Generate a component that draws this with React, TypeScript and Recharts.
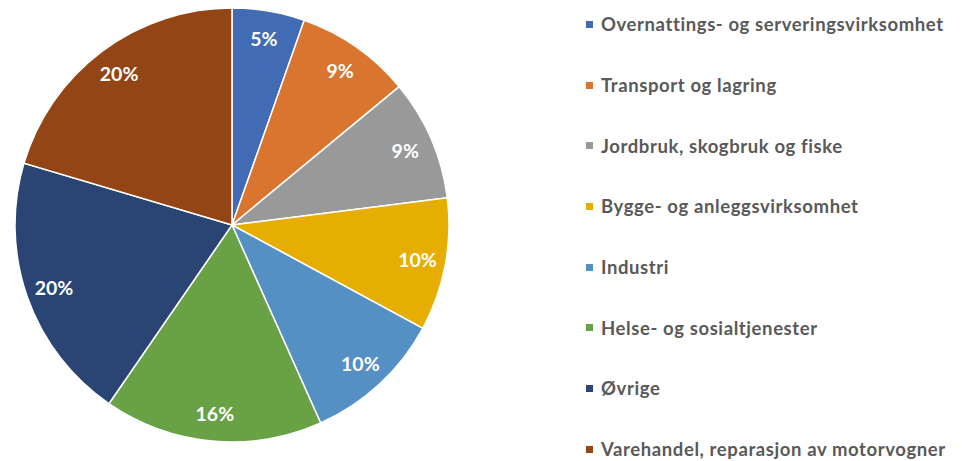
import { Cell, Legend, Pie, PieChart } from 'recharts';

const SECTORS = [
  'Overnattings- og serveringsvirksomhet',
  'Transport og lagring',
  'Jordbruk, skogbruk og fiske',
  'Bygge- og anleggsvirksomhet',
  'Industri',
  'Helse- og sosialtjenester',
  'Øvrige',
  'Varehandel, reparasjon av motorvogner',
];

const SHARES = [5.4, 8.6, 9.0, 9.9, 10.4, 16.3, 20.0, 20.4];

const COLORS = ['#416bb5', '#d9752f', '#999999', '#e6ae02', '#5590c5', '#68a244', '#2a4573', '#934515'];

const data = SECTORS.map((name, i) => ({ name, value: SHARES[i] }));

const RAD = Math.PI / 180;

function renderLabel({ cx, cy, midAngle, outerRadius, percent }: any) {
  const r = outerRadius * 0.87;
  const x = cx + r * Math.cos(-midAngle * RAD);
  const y = cy + r * Math.sin(-midAngle * RAD);
  return (
    <text x={x} y={y} fill="#ffffff" textAnchor="middle" dominantBaseline="central" fontSize={19.5} fontWeight={700} fontFamily="Lato, sans-serif">
      {`${Math.round(percent * 100)}%`}
    </text>
  );
}

function SectorLegend() {
  return (
    <ul style={{ listStyle: 'none', margin: 0, padding: 0, fontFamily: 'Lato, sans-serif' }}>
      {SECTORS.map((s, i) => (
        <li key={s} style={{ height: 60.7, display: 'flex', alignItems: 'center', gap: 8, color: '#595959', fontSize: 18.5, fontWeight: 700, letterSpacing: 0.6, whiteSpace: 'nowrap' }}>
          <span style={{ width: 7, height: 7, background: COLORS[i], display: 'inline-block' }} />
          {s}
        </li>
      ))}
    </ul>
  );
}

export default function App() {
  return (
    <div style={{ position: 'absolute', left: 0, top: 0, width: 962, height: 461, background: '#fff' }}>
      <PieChart width={962} height={461} margin={{ top: 0, right: 0, bottom: 0, left: 0 }}>
        <Pie
          data={data}
          dataKey="value"
          nameKey="name"
          cx={232}
          cy={225}
          outerRadius={217}
          startAngle={90}
          endAngle={-270}
          stroke="#ffffff"
          strokeWidth={1.5}
          label={renderLabel}
          labelLine={false}
          isAnimationActive={false}
        >
          {data.map((d, i) => (
            <Cell key={d.name} fill={COLORS[i]} />
          ))}
        </Pie>
        <Legend content={() => <SectorLegend />} wrapperStyle={{ left: 586, top: -6, width: 376, bottom: 'auto' }} />
      </PieChart>
    </div>
  );
}
